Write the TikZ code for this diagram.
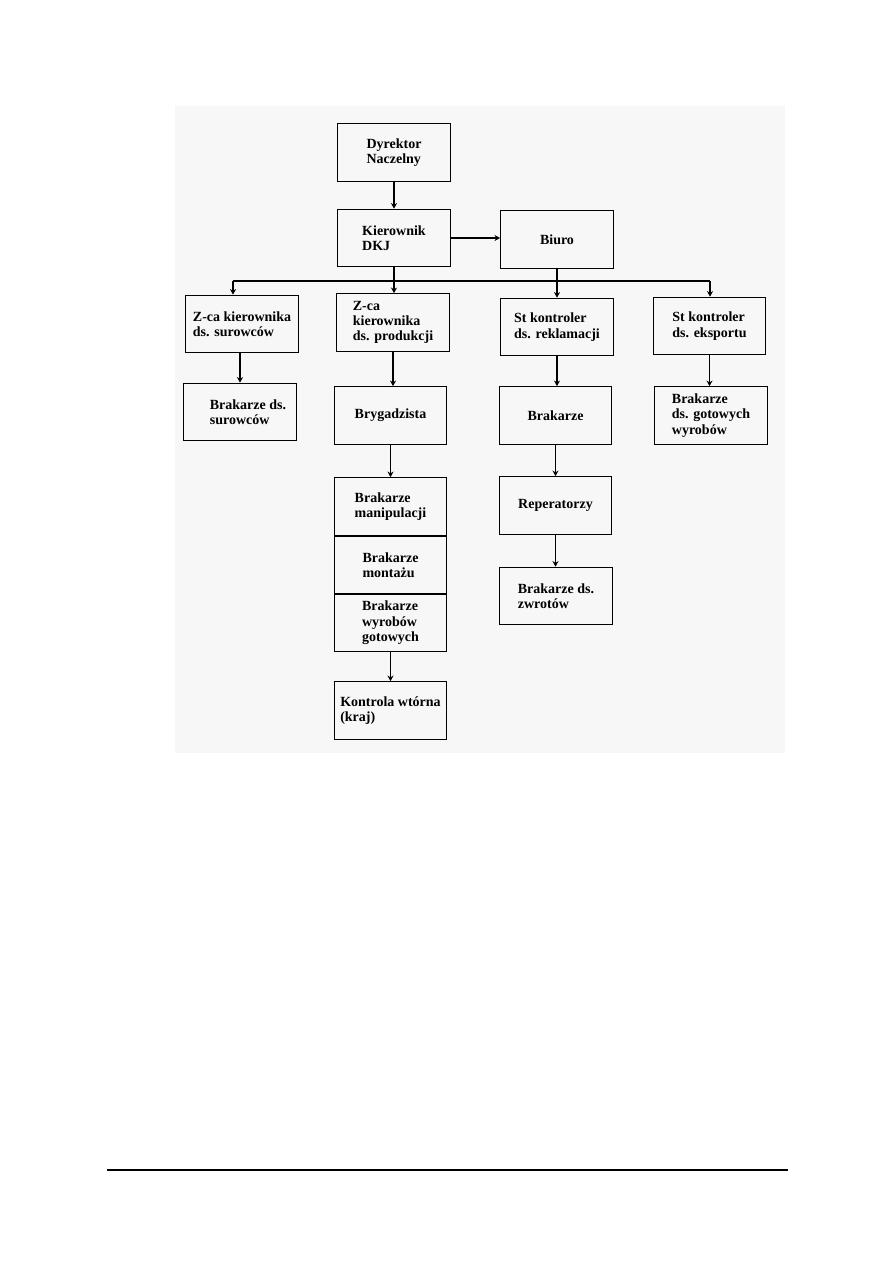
\documentclass[tikz,border=0pt]{standalone}
\usepackage{fontspec}
\setmainfont{Liberation Serif}
\usetikzlibrary{arrows.meta}
\begin{document}
\begin{tikzpicture}[x=0.75pt,y=-0.75pt,
  box/.style={draw=black,line width=0.9pt,rectangle,inner sep=0pt,
    minimum width=84.4pt,minimum height=43.1pt,align=left,
    font=\fontsize{10.5pt}{11.5pt}\selectfont\bfseries},
  arr/.style={line width=0.9pt,-{Stealth[length=4.2pt,width=4.5pt]}},
  ln/.style={line width=0.9pt}]
\useasboundingbox (0,0) rectangle (893,1263);
\fill[black!3] (175,106) rectangle (785,753);
% boxes
\node[box] (dyr)   at (394,152.5) {Dyrektor\\Naczelny};
\node[box] (kier)  at (394,238)   {Kierownik\\DKJ};
\node[box] (biuro) at (557,239.5) {Biuro};
\node[box] (zsur)  at (242,324)   {Z-ca kierownika\\ds. surowców};
\node[box] (zprod) at (393,322.5) {Z-ca\\kierownika\\ds. produkcji};
\node[box] (strek) at (557,327)   {St kontroler\\ds. reklamacji};
\node[box] (steks) at (709.5,326) {St kontroler\\ds. eksportu};
\node[box] (bsur)  at (240,412)   {\hspace*{12pt}Brakarze ds.\\\hspace*{12pt}surowców};
\node[box] (bryg)  at (390.5,415.5) {Brygadzista};
\node[box] (brak)  at (555.5,415.5) {Brakarze};
\node[box] (bgot)  at (711,415.5) {Brakarze\\ds. gotowych\\wyrobów};
\node[box] (bman)  at (390.5,506.5) {Brakarze\\manipulacji};
\node[box] (bmon)  at (390.5,565) {Brakarze\\montażu};
\node[box] (bwyr)  at (390.5,623) {Brakarze\\wyrobów\\gotowych};
\node[box] (rep)   at (555.5,505.5) {Reperatorzy};
\node[box] (bzwr)  at (556,596)   {Brakarze ds.\\zwrotów};
\node[box] (kontr) at (390.5,710.5) {Kontrola wtórna\\(kraj)};
% bus
\coordinate (busL) at (233,281);
\coordinate (busR) at (710,281);
\draw[ln] (busL) -- (busR);
\draw[arr] (busL) -- (busL |- zsur.north);
\draw[arr] (busR) -- (busR |- steks.north);
% connectors
\draw[arr] (dyr.south) -- (kier.north);
\draw[arr] (kier.east) -- (biuro.west |- kier.east);
\draw[arr] (kier.south) -- (kier.south |- zprod.north);
\draw[arr] (biuro.south) -- (biuro.south |- strek.north);
\draw[arr] (bsur.north |- zsur.south) -- (bsur.north);
\draw[arr] (zprod.south) -- (zprod.south |- bryg.north);
\draw[arr] (bryg.south) -- (bman.north);
\draw[arr] (bwyr.south) -- (kontr.north);
\draw[arr] (strek.south) -- (strek.south |- brak.north);
\draw[arr] (brak.south) -- (rep.north);
\draw[arr] (rep.south) -- (rep.south |- bzwr.north);
\draw[arr] (steks.south) -- (steks.south |- bgot.north);
% footer rule
\coordinate (ruleL) at (107,1170);
\coordinate (ruleR) at (788,1170);
\draw[line width=1.1pt] (ruleL) -- (ruleR);
\end{tikzpicture}
\end{document}
